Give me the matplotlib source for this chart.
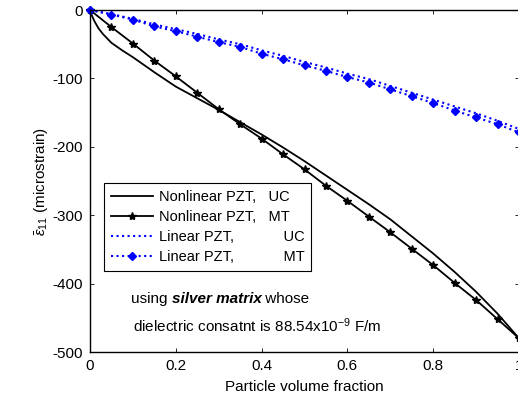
import numpy as np
import matplotlib
matplotlib.use("Agg")
import matplotlib.pyplot as plt

plt.rcParams['font.family'] = ['Liberation Sans', 'DejaVu Sans']
plt.rcParams['mathtext.fontset'] = 'custom'
plt.rcParams['mathtext.rm'] = 'Liberation Sans'
plt.rcParams['mathtext.it'] = 'Liberation Sans:italic'
plt.rcParams['mathtext.bf'] = 'Liberation Sans:bold'
plt.rcParams['axes.unicode_minus'] = False

# Nonlinear PZT, UC (solid, no markers)
x_nl_uc = [0, 0.005, 0.01, 0.02, 0.03, 0.05, 0.075, 0.1, 0.15, 0.2, 0.25, 0.3, 0.35,
           0.4, 0.45, 0.5, 0.55, 0.6, 0.65, 0.7, 0.75, 0.8, 0.85, 0.9, 0.95, 1.0]
y_nl_uc = [0, -9, -16, -27, -35, -48, -59, -69, -91, -112, -129, -146, -164,
           -182, -201, -221, -242, -263, -284, -306, -331, -356, -383, -412, -444, -480]

# sampled every 0.05
x_grid = [0, 0.05, 0.1, 0.15, 0.2, 0.25, 0.3, 0.35, 0.4, 0.45, 0.5,
          0.55, 0.6, 0.65, 0.7, 0.75, 0.8, 0.85, 0.9, 0.95, 1.0]

# Nonlinear PZT, MT
y_nl_mt = [0, -25, -49, -74, -97, -121, -145, -167, -188, -211, -233,
           -257, -279, -302, -325, -349, -373, -399, -424, -452, -480]

# Linear PZT, UC
y_lin_uc = [0, -6, -13, -21, -28, -35, -43, -50, -59, -67, -76,
            -84, -93, -101, -111, -121, -131, -141, -151, -162, -174]

# Linear PZT, MT
y_lin_mt = [0, -6.6, -14, -24, -31, -39, -47, -54, -64, -72, -81,
            -89, -98, -106, -116, -126, -136, -147, -157, -167, -179]

fig = plt.figure(figsize=(5.18, 4.04), dpi=100)
ax = fig.add_axes([90/518, 52/404, 429/518, 342/404])

ax.plot(x_nl_uc, y_nl_uc, '-', color='black', lw=1.3, label='Nonlinear PZT,   UC', clip_on=False)
ax.plot(x_grid, y_nl_mt, '-', color='black', lw=1.3, marker='*', ms=6,
        label='Nonlinear PZT,   MT', clip_on=False)
ax.plot(x_grid, y_lin_uc, ':', color='blue', lw=1.5, label='Linear PZT,            UC', clip_on=False)
ax.plot(x_grid, y_lin_mt, ':', color='blue', lw=1.5, marker='D', ms=4.5,
        label='Linear PZT,            MT', clip_on=False)

ax.set_xlim(0, 1)
ax.set_ylim(-500, 0)
ax.set_xticks([0, 0.2, 0.4, 0.6, 0.8, 1])
ax.set_xticklabels(['0', '0.2', '0.4', '0.6', '0.8', '1'])
ax.set_yticks([0, -100, -200, -300, -400, -500])
ax.tick_params(direction='in', length=3, width=0.6, labelsize=11, top=True, right=True, pad=5)
for s in ax.spines.values():
    s.set_linewidth(1.0)

ax.set_xlabel('Particle volume fraction', fontsize=11, labelpad=5)
ax.set_ylabel(r'$\bar{\varepsilon}_{11}$ (microstrain)', fontsize=11, labelpad=2)

leg = ax.legend(loc='upper left', bbox_to_anchor=(0.033, 0.493), borderaxespad=0,
                fontsize=10.5, fancybox=False, edgecolor='black', framealpha=1,
                handlelength=2.9, labelspacing=0.42, borderpad=0.45, handletextpad=0.4)
leg.get_frame().set_linewidth(0.8)

t1 = ax.text(0.095, 0.143, 'using ', transform=ax.transAxes, fontsize=11, va='baseline')
t2 = ax.annotate('silver matrix', xy=(1, 0), xycoords=t1, va='bottom',
                 fontsize=11, weight='bold', style='italic')
ax.annotate(' whose', xy=(1, 0), xycoords=t2, va='bottom', fontsize=11)
ax.text(0.1, 0.058, r'dielectric consatnt is 88.54x10$^{-9}$ F/m', transform=ax.transAxes,
        fontsize=11, va='baseline')

fig.savefig('out.png', dpi=100)
